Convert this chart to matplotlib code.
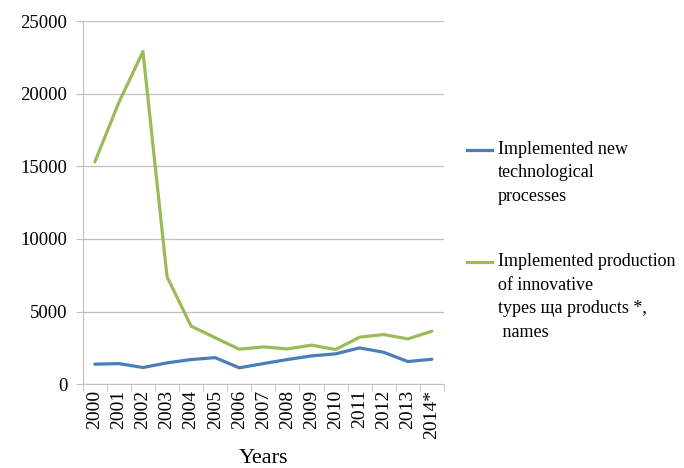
import numpy as np
import matplotlib
matplotlib.use("Agg")
import matplotlib.pyplot as plt
from matplotlib.lines import Line2D

plt.rcParams['font.family'] = ['Liberation Serif', 'DejaVu Serif']

# Data
years = ['2000', '2001', '2002', '2003', '2004', '2005', '2006', '2007',
         '2008', '2009', '2010', '2011', '2012', '2013', '2014*']
new_processes = [1380, 1420, 1150, 1470, 1700, 1830, 1130, 1420,
                 1700, 1950, 2090, 2500, 2200, 1560, 1720]
innovative_products = [15300, 19400, 22900, 7400, 4000, 3200, 2410, 2570,
                       2430, 2690, 2390, 3240, 3420, 3120, 3650]
label_processes = "Implemented new\ntechnological\nprocesses"
label_products = "Implemented production\nof innovative\ntypes ща products *,\n names"

blue = '#4A7EBB'
green = '#9BBB59'

fig = plt.figure(figsize=(6.84, 4.68), dpi=100)
ax = fig.add_axes([0.121, 0.179, 0.528, 0.776])

x = np.arange(len(years))
ax.plot(x, new_processes, color=blue, lw=2.3, solid_capstyle='round')
ax.plot(x, innovative_products, color=green, lw=2.3, solid_capstyle='round')

ax.set_xlim(-0.5, len(years) - 0.5)
ax.set_ylim(0, 25000)
ax.set_yticks(np.arange(0, 25001, 5000))
ax.set_xticks(x)
ax.set_xticklabels(years, rotation=90, fontsize=14)
ax.set_xticks(np.arange(-0.5, len(years), 1), minor=True)
ax.tick_params(axis='x', which='major', length=0, pad=4)
ax.tick_params(axis='x', which='minor', length=5, color='#BFBFBF')
ax.tick_params(axis='y', length=5, color='#BFBFBF', labelsize=13.5, pad=6)
ax.grid(axis='y', color='#BFBFBF', lw=0.9)
ax.set_axisbelow(True)
for s in ['top', 'right']:
    ax.spines[s].set_visible(False)
for s in ['left', 'bottom']:
    ax.spines[s].set_color('#BFBFBF')
ax.set_xlabel('Years', fontsize=16, labelpad=7)

# legend drawn by hand so the handle lines up with the first text line
for ypos, col, lab in [(0.680, blue, label_processes), (0.440, green, label_products)]:
    fig.add_artist(Line2D([0.683, 0.719], [ypos, ypos], color=col, lw=2.3,
                          transform=fig.transFigure))
    fig.text(0.728, ypos + 0.019, lab, fontsize=13, va='top', ha='left',
             linespacing=1.5)

fig.savefig('out.png', dpi=100)
